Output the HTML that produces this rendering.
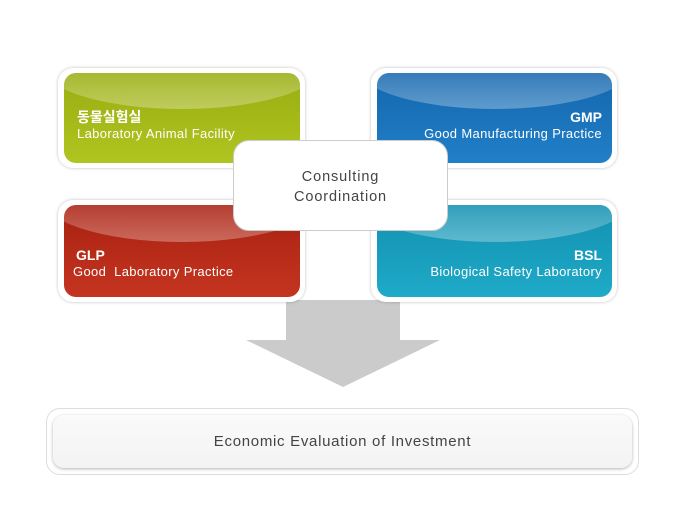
<!DOCTYPE html>
<html><head><meta charset="utf-8"><style>
body{margin:0;width:689px;height:531px;background:#fff;position:relative;overflow:hidden;font-family:"Liberation Sans","Noto Sans CJK KR",sans-serif}
.o{position:absolute;background:#fff;border-radius:15px;box-shadow:0 0 3px rgba(0,0,0,.25)}
.i{position:absolute;left:6px;top:5px;right:5px;bottom:5px;border-radius:12px;overflow:hidden;color:#fff}
.g{position:absolute;left:-10%;width:120%;top:-60%;height:100%;border-radius:50%;background:linear-gradient(rgba(255,255,255,.1) 50%,rgba(255,255,255,.3))}
.t{position:absolute;font-size:13px;line-height:16px;letter-spacing:.35px}
.t b{font-size:14px;font-weight:bold;display:block;margin-bottom:1px;letter-spacing:0}
</style></head><body>
<svg style="position:absolute;left:0;top:0" width="689" height="531"><polygon points="286,300 400,300 400,340 440,340 343,387 246,340 286,340" fill="#cbcbcb"/></svg>

<div class="o" style="left:58px;top:68px;width:247px;height:100px"><div class="i" style="background:linear-gradient(#98ad10,#b0c520)"><div class="g"></div>
<div class="t" style="left:13px;top:36px"><b>동물실험실</b>Laboratory Animal Facility</div></div></div>

<div class="o" style="left:371px;top:68px;width:246px;height:100px"><div class="i" style="background:linear-gradient(#1566ad,#2080c8)"><div class="g"></div>
<div class="t" style="right:10px;top:36px;text-align:right"><b>GMP</b>Good Manufacturing Practice</div></div></div>

<div class="o" style="left:58px;top:200px;width:247px;height:102px"><div class="i" style="background:linear-gradient(#a82010,#c43520)"><div class="g"></div>
<div class="t" style="left:9px;top:42px"><b style="margin-left:3px">GLP</b>Good&nbsp; Laboratory Practice</div></div></div>

<div class="o" style="left:371px;top:200px;width:246px;height:102px"><div class="i" style="background:linear-gradient(#1390b0,#1eaac8)"><div class="g"></div>
<div class="t" style="right:10px;top:42px;text-align:right"><b>BSL</b>Biological Safety Laboratory</div></div></div>

<div style="position:absolute;left:233px;top:140px;width:215px;height:91px;background:#fff;border:1px solid #ccc;border-radius:16px;box-sizing:border-box;text-align:center;color:#444;font-size:14.5px;line-height:20px;padding-top:26px;letter-spacing:.9px">Consulting<br>Coordination</div>

<div style="position:absolute;left:46px;top:408px;width:593px;height:67px;border:1px solid #ddd;border-radius:14px;box-sizing:border-box;background:#fff"></div>
<div style="position:absolute;left:53px;top:415px;width:579px;height:53px;border-radius:11px;background:linear-gradient(#fafafa,#f3f3f3);box-shadow:0 1px 3px rgba(0,0,0,.3);text-align:center;line-height:53px;color:#444;font-size:15px;letter-spacing:.7px">Economic Evaluation of Investment</div>
</body></html>
